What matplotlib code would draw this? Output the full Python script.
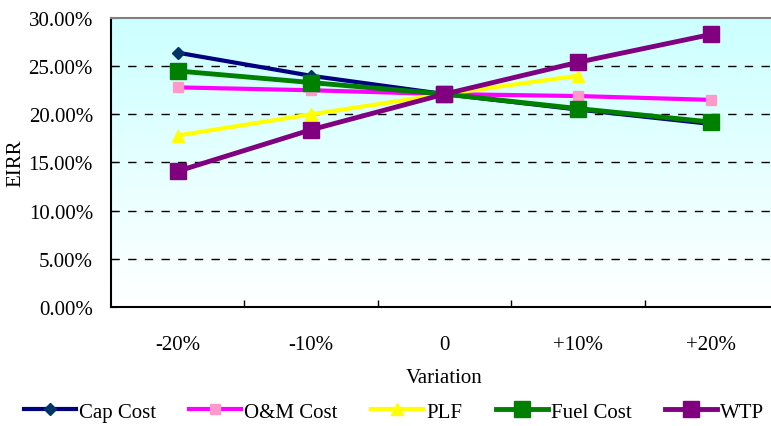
import numpy as np
import matplotlib.pyplot as plt

categories = ['-20%', '-10%', '0', '+10%', '+20%']
cap_cost = [26.4, 24.0, 22.1, 20.5, 19.0]
om_cost = [22.8, 22.5, 22.1, 21.9, 21.5]
plf = [17.8, 20.0, 22.1, 24.0, np.nan]
fuel_cost = [24.5, 23.3, 22.1, 20.6, 19.2]
wtp = [14.1, 18.4, 22.1, 25.4, 28.3]

plt.rcParams['font.family'] = 'Liberation Serif'

fig = plt.figure(figsize=(7.71, 4.27), dpi=100)
ax = fig.add_axes([0.144, 0.2787, 0.865, 0.6768])

# gradient background, light cyan to white
grad = np.linspace(1, 0, 256).reshape(-1, 1)
top = np.array([0.80, 1.0, 1.0])
bot = np.array([1.0, 1.0, 1.0])
img = bot + (top - bot) * grad[..., None]
ax.imshow(img, extent=[0, 1, 0, 1], transform=ax.transAxes, aspect='auto', zorder=0)

x = np.arange(len(categories))
ax.plot(x, cap_cost, color='#000080', lw=3, marker='D', ms=6, mfc='#003366', mec='#003366', label='Cap Cost', zorder=3)
ax.plot(x, om_cost, color='#FF00FF', lw=3, marker='s', ms=7, mfc='#FF99CC', mec='#FF99CC', label='O&M Cost', zorder=3)
ax.plot(x, plf, color='#FFFF00', lw=3, marker='^', ms=8, mfc='#FFFF00', mec='#FFFF00', label='PLF', zorder=3)
ax.plot(x, fuel_cost, color='#008000', lw=3.5, marker='s', ms=12, mfc='#008000', mec='#008000', label='Fuel Cost', zorder=3)
ax.plot(x, wtp, color='#800080', lw=3.5, marker='s', ms=12, mfc='#800080', mec='#800080', label='WTP', zorder=3)

ax.set_xlim(-0.5, 4.5)
ax.set_ylim(0, 30)
ax.set_yticks(np.arange(0, 31, 5))
ax.set_yticklabels(['%.2f%%' % v for v in np.arange(0, 31, 5)], fontsize=15)
ax.set_xticks(x)
ax.set_xticklabels(categories, fontsize=15)
ax.set_xticks(np.arange(0.5, 4.5, 1), minor=True)
ax.tick_params(axis='x', which='major', length=0, pad=20)
ax.tick_params(axis='x', which='minor', length=5, direction='in', width=1)
ax.tick_params(axis='y', length=4, direction='in', pad=13)
for v in range(5, 30, 5):
    ax.axhline(v, color='black', lw=1, ls=(0, (6, 6)), zorder=1)

ax.spines['right'].set_visible(False)
ax.spines['top'].set_color('#808080')
ax.spines['top'].set_linewidth(1.5)
ax.spines['left'].set_linewidth(1.5)
ax.spines['bottom'].set_linewidth(1.5)

ax.set_xlabel('Variation', fontsize=15, labelpad=10)
ax.set_ylabel('EIRR', fontsize=15, labelpad=2)

fig.legend(loc='center', bbox_to_anchor=(0.511, 0.033), ncol=5, frameon=False,
           fontsize=15, handlelength=2.5, columnspacing=1.6, handletextpad=0.15)

fig.savefig('out.png', dpi=100)
